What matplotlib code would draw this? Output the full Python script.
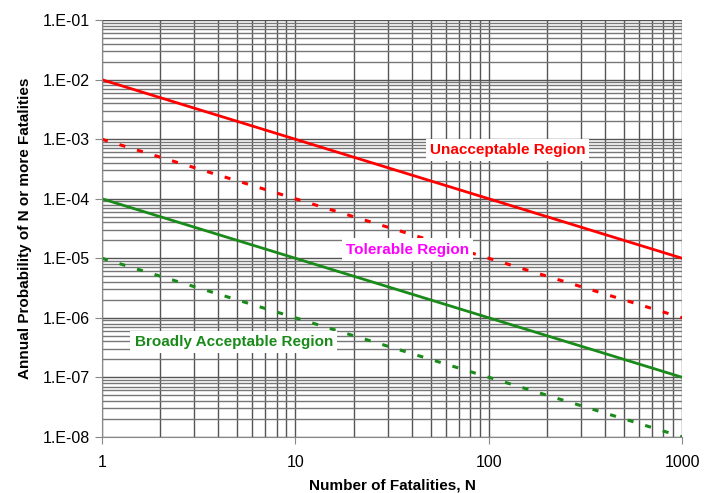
import numpy as np
import matplotlib.pyplot as plt
from matplotlib.ticker import FuncFormatter, LogLocator, NullFormatter

plt.rcParams['font.family'] = ['Liberation Sans', 'DejaVu Sans']

# data
n_points = [1, 1000]
unacceptable = [1e-2, 1e-5]
tolerable_upper = [1e-3, 1e-6]
tolerable_lower = [1e-4, 1e-7]
acceptable = [1e-5, 1e-8]

fig = plt.figure(figsize=(7.18, 4.93), dpi=100)
ax = fig.add_axes([0.142, 0.114, 0.808, 0.845])

ax.set_xscale('log')
ax.set_yscale('log')
ax.set_xlim(1, 1000)
ax.set_ylim(1e-8, 1e-1)

ax.xaxis.set_minor_locator(LogLocator(base=10, subs=np.arange(2, 10)))
ax.yaxis.set_minor_locator(LogLocator(base=10, subs=np.arange(2, 10), numticks=20))
ax.yaxis.set_major_locator(LogLocator(base=10, numticks=20))
ax.xaxis.set_minor_formatter(NullFormatter())
ax.yaxis.set_minor_formatter(NullFormatter())
ax.xaxis.set_major_formatter(FuncFormatter(lambda v, p: f'{v:g}'))
ax.yaxis.set_major_formatter(FuncFormatter(lambda v, p: f'1.E-{int(round(-np.log10(v))):02d}'))

ax.grid(True, which='major', color='#555555', linewidth=1.0)
ax.xaxis.grid(True, which='minor', color='#555555', linewidth=1.0)
ax.yaxis.grid(True, which='minor', color='#777777', linewidth=1.0)
ax.set_axisbelow(True)

ax.plot(n_points, unacceptable, color='red', linewidth=2)
ax.plot(n_points, tolerable_upper, color='red', linewidth=2.2, linestyle=(0, (2, 4)))
ax.plot(n_points, tolerable_lower, color='#1a8a1a', linewidth=2)
ax.plot(n_points, acceptable, color='#1a8a1a', linewidth=2.2, linestyle=(0, (2, 4)))

for side in ['top', 'right']:
    ax.spines[side].set_visible(False)
for side in ['left', 'bottom']:
    ax.spines[side].set_color('#888888')

ax.tick_params(axis='both', which='major', labelsize=11.5, length=5, color='#888888')
ax.tick_params(axis='both', which='minor', length=0)
ax.tick_params(axis='x', which='major', pad=8)

box = dict(facecolor='white', edgecolor='none', pad=3)
ax.text(125, 6.6e-4, 'Unacceptable Region', color='red', fontsize=11,
        fontweight='bold', ha='center', va='center', bbox=box)
ax.text(38, 1.4e-5, 'Tolerable Region', color='#ff00ff', fontsize=11,
        fontweight='bold', ha='center', va='center', bbox=box)
ax.text(4.8, 3.9e-7, 'Broadly Acceptable Region', color='#1a8a1a', fontsize=11,
        fontweight='bold', ha='center', va='center', bbox=box)

ax.set_xlabel('Number of Fatalities, N', fontsize=11, fontweight='bold', labelpad=6)
ax.set_ylabel('Annual Probability of N or more Fatalities', fontsize=11,
              fontweight='bold', labelpad=8)

fig.savefig('out.png', dpi=100)
